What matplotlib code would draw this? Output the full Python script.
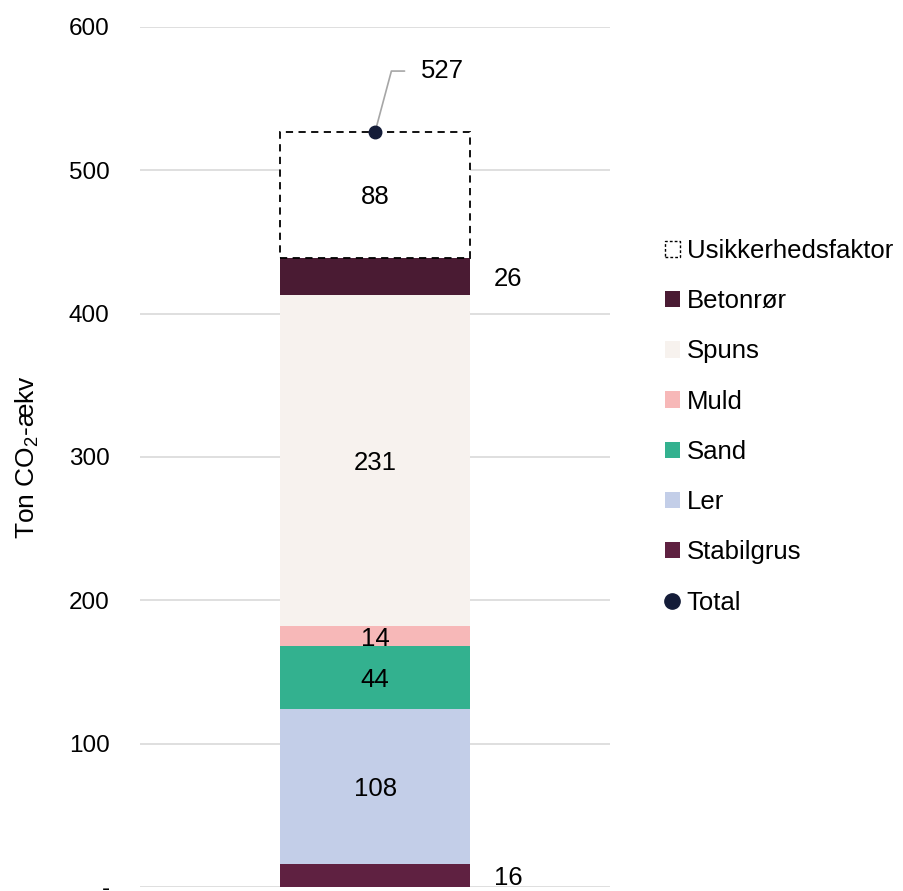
import matplotlib.pyplot as plt
from matplotlib.patches import Patch
from matplotlib.lines import Line2D

plt.rcParams['font.family'] = ['Liberation Sans', 'DejaVu Sans']
plt.rcParams['mathtext.fontset'] = 'custom'
plt.rcParams['mathtext.rm'] = 'Liberation Sans'
plt.rcParams['mathtext.default'] = 'regular'

categories = ["Stabilgrus", "Ler", "Sand", "Muld", "Spuns", "Betonrør", "Usikkerhedsfaktor"]
values = [16, 108, 44, 14, 231, 26, 88]
colors = ["#5F2141", "#C3CEE8", "#33B18F", "#F7B8B8", "#F7F2EE", "#4A1B33", "#FFFFFF"]
total = 527
yticks = [0, 100, 200, 300, 400, 500, 600]
ytick_labels = ["-", "100", "200", "300", "400", "500", "600"]

fig = plt.figure(figsize=(9.04, 8.91), dpi=100)
ax = fig.add_axes([0.155, 0.0045, 0.52, 0.9652])

bar_w = 0.404
bottom = 0
for name, v, c in zip(categories, values, colors):
    if name == "Usikkerhedsfaktor":
        ax.bar(0, v, bar_w, bottom=bottom, color="white", edgecolor="black",
               linestyle=(0, (4, 3)), linewidth=1.3, zorder=3)
    else:
        ax.bar(0, v, bar_w, bottom=bottom, color=c, zorder=3)
    mid = bottom + v / 2
    if name in ("Stabilgrus", "Betonrør"):
        ax.text(bar_w / 2 + 0.05, mid, str(v), ha="left", va="center_baseline", fontsize=18.5)
    else:
        ax.text(0, mid, str(v), ha="center", va="center_baseline", fontsize=18.5)
    bottom += v

ax.plot(0, total, "o", color="#141C38", markersize=9, zorder=5)
ax.annotate(str(total), xy=(0, total), xytext=(0.098, total + 44),
            ha="left", va="center_baseline", fontsize=18.5,
            arrowprops=dict(arrowstyle="-", color="#A6A6A6", lw=1.2,
                            connectionstyle="angle,angleA=0,angleB=75,rad=0",
                            shrinkA=10, shrinkB=0))

ax.set_xlim(-0.5, 0.5)
ax.set_ylim(0, 600)
ax.set_yticks(yticks)
ax.set_yticklabels(ytick_labels, fontsize=17.5)
ax.set_xticks([])
ax.tick_params(axis="y", length=0, pad=22)
ax.grid(axis="y", color="#D9D9D9", lw=1.2, zorder=0)
for s in ax.spines.values():
    s.set_visible(False)
ax.set_ylabel("Ton CO$_2$-ækv", fontsize=19, labelpad=20)

handles = [Patch(facecolor="white", edgecolor="black", linestyle=(0, (2, 1.5)), lw=1)]
for c in reversed(colors[:-1]):
    handles.append(Patch(facecolor=c, edgecolor="none"))
handles.append(Line2D([], [], marker="o", color="#141C38", linestyle="none", markersize=11))
labels = ["Usikkerhedsfaktor", "Betonrør", "Spuns", "Muld", "Sand", "Ler", "Stabilgrus", "Total"]
fig.legend(handles, labels, loc="center left", bbox_to_anchor=(0.724, 0.521),
           frameon=False, fontsize=18.5, handlelength=0.6, handleheight=0.6,
           handletextpad=0.25, labelspacing=1.02, borderaxespad=0)

fig.savefig("out.png", dpi=100)
